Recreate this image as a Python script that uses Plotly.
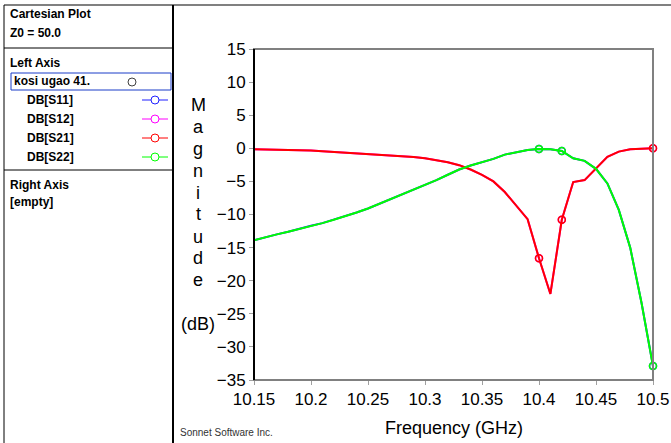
import plotly.graph_objects as go

# Frequency sweep (GHz)
freq = [10.15, 10.16, 10.17, 10.18, 10.19, 10.20, 10.21, 10.22, 10.23, 10.24,
        10.25, 10.26, 10.27, 10.28, 10.29, 10.30, 10.31, 10.32, 10.33, 10.34,
        10.35, 10.36, 10.37, 10.38, 10.39, 10.40, 10.41, 10.42, 10.43, 10.44,
        10.45, 10.46, 10.47, 10.48, 10.49, 10.50]

# S-parameter magnitudes (dB)
s21 = [-0.15, -0.17, -0.2, -0.23, -0.28, -0.35, -0.45, -0.55, -0.62, -0.7,
       -0.8, -0.9, -1.0, -1.15, -1.3, -1.5, -1.75, -2.1, -2.55, -3.2,
       -4.0, -5.0, -6.6, -8.6, -10.7, -16.6, -22.0, -10.8, -5.1, -4.8,
       -3.0, -1.3, -0.5, -0.15, -0.05, 0.0]
s12 = list(s21)
s22 = [-13.9, -13.4, -13.0, -12.6, -12.2, -11.8, -11.3, -10.8, -10.3, -9.7,
       -9.1, -8.4, -7.7, -7.0, -6.3, -5.6, -4.8, -4.0, -3.2, -2.6,
       -2.1, -1.6, -0.95, -0.55, -0.25, -0.1, -0.15, -0.4, -1.5, -1.9,
       -3.1, -5.3, -9.3, -15.0, -23.4, -32.9]
s11 = [-13.9, -13.4, -13.0, -12.6, -12.1, -11.7, -11.3, -10.8, -10.3, -9.7,
       -9.1, -8.4, -7.7, -7.0, -6.3, -5.6, -4.8, -4.0, -3.2, -2.6,
       -2.1, -1.6, -0.95, -0.55, -0.25, -0.1, -0.15, -0.4, -1.5, -1.9,
       -3.1, -5.3, -9.3, -15.0, -23.4, -32.9]

# Sample indices carrying a circle marker
marker_idx = [25, 27, 35]

x_ticks = [10.15, 10.2, 10.25, 10.3, 10.35, 10.4, 10.45, 10.5]
x_ticktext = ["10.15", "10.2", "10.25", "10.3", "10.35", "10.4", "10.45", "10.5"]
y_ticks = [15, 10, 5, 0, -5, -10, -15, -20, -25, -30, -35]

series = [
    ("DB[S11]", s11, "#2020ff"),
    ("DB[S12]", s12, "#ff00ff"),
    ("DB[S21]", s21, "#ff0000"),
    ("DB[S22]", s22, "#00ff00"),
]

W, H = 671, 443
L, R, T, B = 254, 653, 49, 380


def px(x):
    return (x - L) / (R - L)


def py(y):
    return (B - y) / (B - T)


fig = go.Figure()
for name, vals, color in series:
    fig.add_trace(go.Scatter(
        x=freq, y=vals, mode="lines", name=name,
        line=dict(color=color, width=2), cliponaxis=False))
    fig.add_trace(go.Scatter(
        x=[freq[i] for i in marker_idx], y=[vals[i] for i in marker_idx],
        mode="markers", showlegend=False, cliponaxis=False,
        marker=dict(symbol="circle-open", size=7, color=color,
                    line=dict(width=1.5, color=color))))

shapes = []
annotations = []

# Plot frame: gray box with black left axis
shapes.append(dict(type="rect", xref="paper", yref="paper", x0=0, x1=1, y0=0, y1=1,
                   line=dict(color="#808080", width=2), layer="above"))
shapes.append(dict(type="line", xref="paper", yref="paper", x0=0, x1=0, y0=0, y1=1,
                   line=dict(color="#000000", width=2), layer="above"))

# Side panel borders
shapes.append(dict(type="line", xref="paper", yref="paper", x0=px(4), x1=px(671),
                   y0=py(5), y1=py(5), line=dict(color="#808080", width=2)))
shapes.append(dict(type="line", xref="paper", yref="paper", x0=px(4), x1=px(4),
                   y0=py(5), y1=py(443), line=dict(color="#000000", width=1)))
shapes.append(dict(type="line", xref="paper", yref="paper", x0=px(173), x1=px(173),
                   y0=py(5), y1=py(443), line=dict(color="#000000", width=2)))
for yy in (48, 170):
    shapes.append(dict(type="line", xref="paper", yref="paper", x0=px(4), x1=px(173),
                       y0=py(yy), y1=py(yy), line=dict(color="#000000", width=1)))

# Project entry box
shapes.append(dict(type="rect", xref="paper", yref="paper", x0=px(11), x1=px(171),
                   y0=py(90), y1=py(73), line=dict(color="#1a3cc8", width=1)))
shapes.append(dict(type="circle", xref="paper", yref="paper", x0=px(128), x1=px(136),
                   y0=py(86), y1=py(78), line=dict(color="#404040", width=1)))


def panel_text(x, y, text, size=12, bold=True, color="#000000"):
    annotations.append(dict(
        xref="paper", yref="paper", x=px(x), y=py(y), xanchor="left", yanchor="middle",
        text=f"<b>{text}</b>" if bold else text, showarrow=False,
        font=dict(family="Liberation Sans, Arial", size=size, color=color)))


panel_text(8, 14, "Cartesian Plot")
panel_text(8, 33, "Z0 = 50.0")
panel_text(8, 63, "Left Axis")
panel_text(12, 81, "kosi ugao 41.")
panel_text(8, 185, "Right Axis")
panel_text(8, 202, "[empty]")

for k, (name, vals, color) in enumerate(series):
    yy = 100 + k * 19
    panel_text(25, yy, name)
    shapes.append(dict(type="line", xref="paper", yref="paper", x0=px(142), x1=px(168),
                       y0=py(yy), y1=py(yy), line=dict(color=color, width=1)))
    shapes.append(dict(type="circle", xref="paper", yref="paper", x0=px(151), x1=px(159),
                       y0=py(yy + 4), y1=py(yy - 4), fillcolor="white",
                       line=dict(color=color, width=1)))

# Stacked vertical y-axis title
letters = ["M", "a", "g", "n", "i", "t", "u", "d", "e"]
letter_y = [105, 127, 149, 171, 193, 214, 237, 258, 280]
for ch, yy in zip(letters, letter_y):
    annotations.append(dict(
        xref="paper", yref="paper", x=px(198), y=py(yy), xanchor="center", yanchor="middle",
        text=ch, showarrow=False, font=dict(family="Liberation Sans, Arial", size=18, color="#000000")))
annotations.append(dict(
    xref="paper", yref="paper", x=px(198), y=py(324), xanchor="center", yanchor="middle",
    text="(dB)", showarrow=False, font=dict(family="Liberation Sans, Arial", size=18, color="#000000")))

# X-axis title
annotations.append(dict(
    xref="paper", yref="paper", x=0.5, y=py(428), xanchor="center", yanchor="middle",
    text="Frequency (GHz)", showarrow=False,
    font=dict(family="Liberation Sans, Arial", size=18, color="#000000")))

annotations.append(dict(
    xref="paper", yref="paper", x=px(178), y=py(432), xanchor="left", yanchor="middle",
    text="Sonnet Software Inc.", showarrow=False,
    font=dict(family="Liberation Sans, Arial", size=10, color="#333333")))

fig.update_layout(
    width=W, height=H,
    margin=dict(l=L, r=W - R, t=T, b=H - B, pad=0, autoexpand=False),
    paper_bgcolor="white", plot_bgcolor="white",
    showlegend=False,
    shapes=shapes, annotations=annotations,
    font=dict(family="Liberation Sans, Arial", color="#000000"),
    xaxis=dict(
        range=[10.15, 10.5], tickvals=x_ticks, ticktext=x_ticktext,
        showgrid=False, zeroline=False, showline=False, automargin=False,
        ticks="outside", ticklen=4, tickcolor="#a0a0a0", tickwidth=1,
        tickfont=dict(size=17, color="#000000"),
    ),
    yaxis=dict(
        range=[-35, 15], tickvals=y_ticks,
        showgrid=False, zeroline=False, showline=False, automargin=False,
        ticks="outside", ticklen=4, tickcolor="#a0a0a0", tickwidth=1,
        tickfont=dict(size=17, color="#000000"),
    ),
)

fig.write_html("out.html")
